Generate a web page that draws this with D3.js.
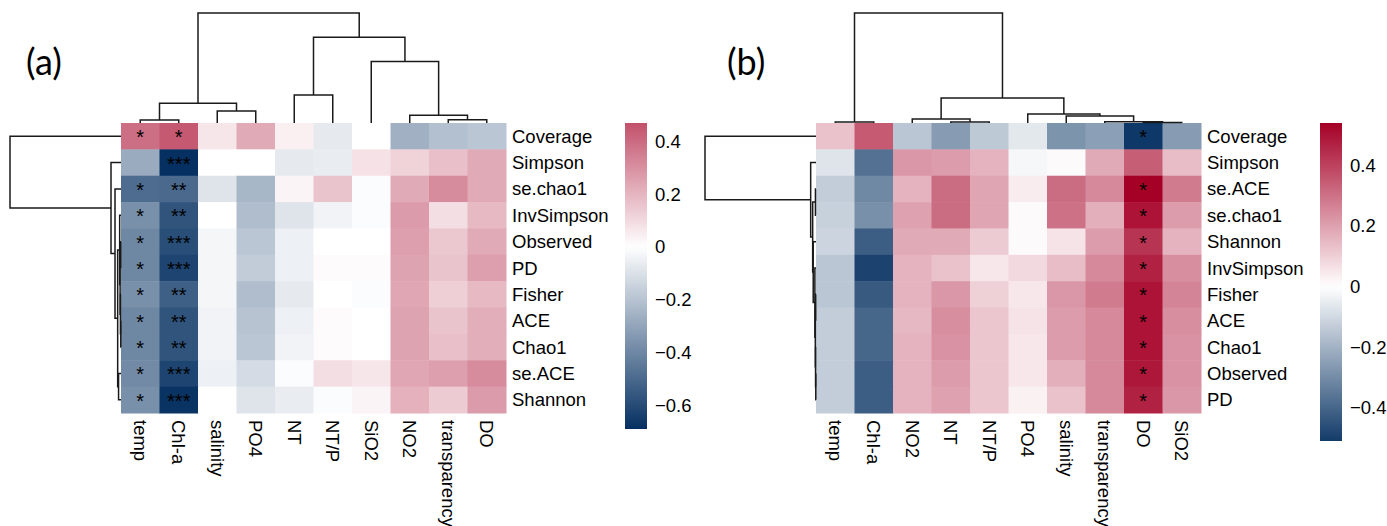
<!DOCTYPE html>
<html>
<head>
<meta charset="utf-8">
<script src="https://cdn.jsdelivr.net/npm/d3@7"></script>
<style>
  body { margin: 0; background: #fff; }
  svg { display: block; }
  text { font-family: "Liberation Sans", Arial, sans-serif; fill: #000; }
</style>
</head>
<body>
<svg id="chart" width="1387" height="526"></svg>
<script>
// ---- panel (a) ----
const colsA = ['temp', 'Chl-a', 'salinity', 'PO4', 'NT', 'NT/P', 'SiO2', 'NO2', 'transparency', 'DO'];
const rowsA = ['Coverage', 'Simpson', 'se.chao1', 'InvSimpson', 'Observed', 'PD', 'Fisher', 'ACE', 'Chao1', 'se.ACE', 'Shannon'];
const valuesA = [
    [0.39, 0.45, 0.07, 0.23, 0.04, -0.07, 0.00, -0.26, -0.21, -0.19],
    [-0.28, -0.69, 0.00, 0.00, -0.07, -0.06, 0.08, 0.12, 0.17, 0.23],
    [-0.49, -0.50, -0.09, -0.24, 0.03, 0.16, -0.01, 0.23, 0.31, 0.23],
    [-0.37, -0.57, 0.00, -0.22, -0.09, -0.04, -0.01, 0.27, 0.09, 0.19],
    [-0.40, -0.59, -0.03, -0.19, -0.05, 0.00, 0.00, 0.26, 0.15, 0.23],
    [-0.40, -0.62, -0.03, -0.17, -0.05, 0.01, 0.01, 0.25, 0.16, 0.26],
    [-0.37, -0.53, -0.03, -0.22, -0.07, 0.00, -0.01, 0.24, 0.13, 0.19],
    [-0.40, -0.57, -0.04, -0.20, -0.05, 0.01, 0.00, 0.25, 0.16, 0.22],
    [-0.40, -0.57, -0.04, -0.19, -0.04, 0.01, 0.00, 0.25, 0.17, 0.22],
    [-0.39, -0.62, -0.05, -0.12, -0.01, 0.09, 0.07, 0.24, 0.26, 0.31],
    [-0.37, -0.68, 0.00, -0.09, -0.06, -0.01, 0.03, 0.21, 0.14, 0.27]
];
const sigA = [
    ['*', '*', '', '', '', '', '', '', '', ''],
    ['', '***', '', '', '', '', '', '', '', ''],
    ['*', '**', '', '', '', '', '', '', '', ''],
    ['*', '**', '', '', '', '', '', '', '', ''],
    ['*', '***', '', '', '', '', '', '', '', ''],
    ['*', '***', '', '', '', '', '', '', '', ''],
    ['*', '**', '', '', '', '', '', '', '', ''],
    ['*', '**', '', '', '', '', '', '', '', ''],
    ['*', '**', '', '', '', '', '', '', '', ''],
    ['*', '***', '', '', '', '', '', '', '', ''],
    ['*', '***', '', '', '', '', '', '', '', '']
];
// hclust style merges: negative = leaf (1-based, display order), positive = earlier merge
const colMergeA = [[-1, -2], [-9, -10], [-8, 2], [-3, -4], [1, 4], [-5, -6], [-7, 3], [6, 7], [5, 8]];
const colHeightA = [0.027, 0.03, 0.07, 0.11, 0.18, 0.255, 0.56, 0.78, 1.0];
const rowMergeA = [[-8, -9], [-5, -6], [-7, 1], [2, 3], [-4, 4], [-10, -11], [5, 6], [-3, 7], [-2, 8], [-1, 9]];
const rowHeightA = [0.002, 0.003, 0.005, 0.008, 0.012, 0.022, 0.03, 0.054, 0.09, 1.0];
const legendA = [-0.69, 0.47];
const ticksA = [0.4, 0.2, 0, -0.2, -0.4, -0.6];

// ---- panel (b) ----
const colsB = ['temp', 'Chl-a', 'NO2', 'NT', 'NT/P', 'PO4', 'salinity', 'transparency', 'DO', 'SiO2'];
const rowsB = ['Coverage', 'Simpson', 'se.ACE', 'se.chao1', 'Shannon', 'InvSimpson', 'Fisher', 'ACE', 'Chao1', 'Observed', 'PD'];
const valuesB = [
    [0.13, 0.35, -0.15, -0.26, -0.14, -0.06, -0.28, -0.25, -0.52, -0.26],
    [-0.07, -0.37, 0.22, 0.21, 0.16, -0.02, 0.01, 0.18, 0.34, 0.14],
    [-0.13, -0.31, 0.16, 0.31, 0.19, 0.04, 0.31, 0.25, 0.54, 0.28],
    [-0.12, -0.29, 0.20, 0.31, 0.19, 0.01, 0.30, 0.17, 0.50, 0.21],
    [-0.11, -0.42, 0.18, 0.18, 0.11, 0.01, 0.06, 0.21, 0.43, 0.16],
    [-0.15, -0.49, 0.16, 0.13, 0.05, 0.08, 0.14, 0.25, 0.47, 0.24],
    [-0.15, -0.43, 0.16, 0.22, 0.10, 0.05, 0.22, 0.28, 0.50, 0.26],
    [-0.13, -0.40, 0.15, 0.24, 0.12, 0.06, 0.21, 0.25, 0.50, 0.24],
    [-0.13, -0.40, 0.16, 0.23, 0.12, 0.05, 0.21, 0.25, 0.50, 0.23],
    [-0.13, -0.42, 0.16, 0.21, 0.12, 0.05, 0.17, 0.25, 0.49, 0.23],
    [-0.13, -0.42, 0.16, 0.20, 0.12, 0.03, 0.13, 0.25, 0.47, 0.22]
];
const sigB = [
    ['', '', '', '', '', '', '', '', '*', ''],
    ['', '', '', '', '', '', '', '', '', ''],
    ['', '', '', '', '', '', '', '', '*', ''],
    ['', '', '', '', '', '', '', '', '*', ''],
    ['', '', '', '', '', '', '', '', '*', ''],
    ['', '', '', '', '', '', '', '', '*', ''],
    ['', '', '', '', '', '', '', '', '*', ''],
    ['', '', '', '', '', '', '', '', '*', ''],
    ['', '', '', '', '', '', '', '', '*', ''],
    ['', '', '', '', '', '', '', '', '*', ''],
    ['', '', '', '', '', '', '', '', '*', '']
];
const colMergeB = [[-9, -10], [-1, -2], [-4, -5], [-8, 1], [-3, 3], [-7, 4], [-6, 6], [5, 7], [2, 8]];
const colHeightB = [0.004, 0.01, 0.01, 0.012, 0.036, 0.064, 0.082, 0.227, 1.0];
const rowMergeB = [[-10, -11], [-9, 1], [-7, -8], [3, 2], [-6, 4], [-3, -4], [-5, 5], [6, 7], [-2, 8], [-1, 9]];
const rowHeightB = [0.002, 0.004, 0.003, 0.006, 0.01, 0.005, 0.025, 0.03, 0.048, 1.0];
const legendB = [-0.51, 0.54];
const ticksB = [0.4, 0.2, 0, -0.2, -0.4];

const NAVY = '#053061';
const RED = '#a50026';

const svg = d3.select('#chart');

function buildTree(merge, heights, leaves) {
    let nodes = [];
    merge.forEach(function (m, i) {
        let kids = m.map(function (k) {
            return k < 0 ? {name: leaves[-k - 1], h: 0} : nodes[k - 1];
        });
        nodes.push({h: heights[i], children: kids});
    });
    return d3.hierarchy(nodes[nodes.length - 1]);
}

function drawPanel(p) {
    let g = svg.append('g');
    let x = d3.scaleBand().domain(p.cols).range([p.left, p.left + 385]);
    let y = d3.scaleBand().domain(p.rows).range([123, 413]);
    let M = Math.max(Math.abs(p.legend[0]), Math.abs(p.legend[1]));
    let color = d3.scaleLinear().domain([-M, 0, M]).range([NAVY, '#ffffff', RED]);

    // cells
    let cells = [];
    p.values.forEach(function (row, i) {
        row.forEach(function (v, j) {
            cells.push({r: p.rows[i], c: p.cols[j], v: v, s: p.sig[i][j]});
        });
    });
    g.selectAll('rect.cell')
        .data(cells)
        .enter()
        .append('rect')
        .attr('class', 'cell')
        .attr('x', d => x(d.c))
        .attr('y', d => y(d.r))
        .attr('width', x.bandwidth() + 0.5)
        .attr('height', y.bandwidth() + 0.5)
        .style('fill', d => color(d.v));

    g.selectAll('text.sig')
        .data(cells.filter(d => d.s))
        .enter()
        .append('text')
        .attr('class', 'sig')
        .attr('x', d => x(d.c) + x.bandwidth() / 2)
        .attr('y', d => y(d.r) + y.bandwidth() / 2 + 8)
        .attr('text-anchor', 'middle')
        .style('font-size', '20px')
        .text(d => d.s);

    // row labels
    g.selectAll('text.rowlab')
        .data(p.rows)
        .enter()
        .append('text')
        .attr('x', p.left + 391)
        .attr('y', d => y(d) + y.bandwidth() / 2)
        .attr('dominant-baseline', 'central')
        .style('font-size', '18.5px')
        .text(d => d);

    // column labels
    g.selectAll('text.collab')
        .data(p.cols)
        .enter()
        .append('text')
        .attr('transform', d => 'translate(' + (x(d) + x.bandwidth() / 2) + ',420) rotate(90)')
        .attr('dominant-baseline', 'central')
        .style('font-size', '18.5px')
        .text(d => d);

    // column dendrogram
    let colTree = buildTree(p.colMerge, p.colHeight, p.cols);
    let hy = d3.scaleLinear().domain([0, 1]).range([123, 13]);
    colTree.eachAfter(function (n) {
        n.pos = n.children ? d3.mean(n.children, c => c.pos) : x(n.data.name) + x.bandwidth() / 2;
    });
    g.selectAll('path.cden')
        .data(colTree.descendants().filter(n => n.children))
        .enter()
        .append('path')
        .attr('d', function (n) {
            let a = n.children[0], b = n.children[1];
            return 'M' + a.pos + ',' + hy(a.data.h) + 'V' + hy(n.data.h) + 'H' + b.pos + 'V' + hy(b.data.h);
        })
        .style('fill', 'none')
        .style('stroke', '#1a1a1a')
        .style('stroke-width', 1.5);

    // row dendrogram
    let rowTree = buildTree(p.rowMerge, p.rowHeight, p.rows);
    let hx = d3.scaleLinear().domain([0, 1]).range([p.left, p.left - 111]);
    rowTree.eachAfter(function (n) {
        n.pos = n.children ? d3.mean(n.children, c => c.pos) : y(n.data.name) + y.bandwidth() / 2;
    });
    g.selectAll('path.rden')
        .data(rowTree.descendants().filter(n => n.children))
        .enter()
        .append('path')
        .attr('d', function (n) {
            let a = n.children[0], b = n.children[1];
            return 'M' + hx(a.data.h) + ',' + a.pos + 'H' + hx(n.data.h) + 'V' + b.pos + 'H' + hx(b.data.h);
        })
        .style('fill', 'none')
        .style('stroke', '#1a1a1a')
        .style('stroke-width', 1.5);

    // colour legend
    let ly = d3.scaleLinear().domain(p.legend).range([p.legBottom, 123]);
    let gid = 'grad' + p.id;
    let grad = svg.append('defs').append('linearGradient')
        .attr('id', gid)
        .attr('x1', 0).attr('y1', 1).attr('x2', 0).attr('y2', 0);
    let steps = d3.range(0, 1.0001, 0.02);
    grad.selectAll('stop')
        .data(steps)
        .enter()
        .append('stop')
        .attr('offset', d => d)
        .attr('stop-color', d => color(p.legend[0] + d * (p.legend[1] - p.legend[0])));
    g.append('rect')
        .attr('x', p.legX)
        .attr('y', ly(p.legend[1]))
        .attr('width', 22)
        .attr('height', ly(p.legend[0]) - ly(p.legend[1]))
        .style('fill', 'url(#' + gid + ')');
    g.selectAll('text.tick')
        .data(p.ticks)
        .enter()
        .append('text')
        .attr('x', p.legX + 30)
        .attr('y', d => ly(d))
        .attr('dominant-baseline', 'central')
        .style('font-size', '18.5px')
        .text(d => d === 0 ? '0' : (d < 0 ? '\u2212' + Math.abs(d) : String(d)));

    // panel tag
    g.append('text')
        .attr('x', p.tagX)
        .attr('y', 75)
        .style('font-family', 'Lato, "Open Sans", sans-serif')
        .style('font-size', '36px')
        .text(p.tag);
}

drawPanel({
    id: 'a', tag: '(a)', tagX: 26, left: 121, legX: 625, legBottom: 429,
    cols: colsA, rows: rowsA, values: valuesA, sig: sigA,
    colMerge: colMergeA, colHeight: colHeightA, rowMerge: rowMergeA, rowHeight: rowHeightA,
    legend: legendA, ticks: ticksA
});
drawPanel({
    id: 'b', tag: '(b)', tagX: 727, left: 816, legX: 1320, legBottom: 441,
    cols: colsB, rows: rowsB, values: valuesB, sig: sigB,
    colMerge: colMergeB, colHeight: colHeightB, rowMerge: rowMergeB, rowHeight: rowHeightB,
    legend: legendB, ticks: ticksB
});
</script>
</body>
</html>
